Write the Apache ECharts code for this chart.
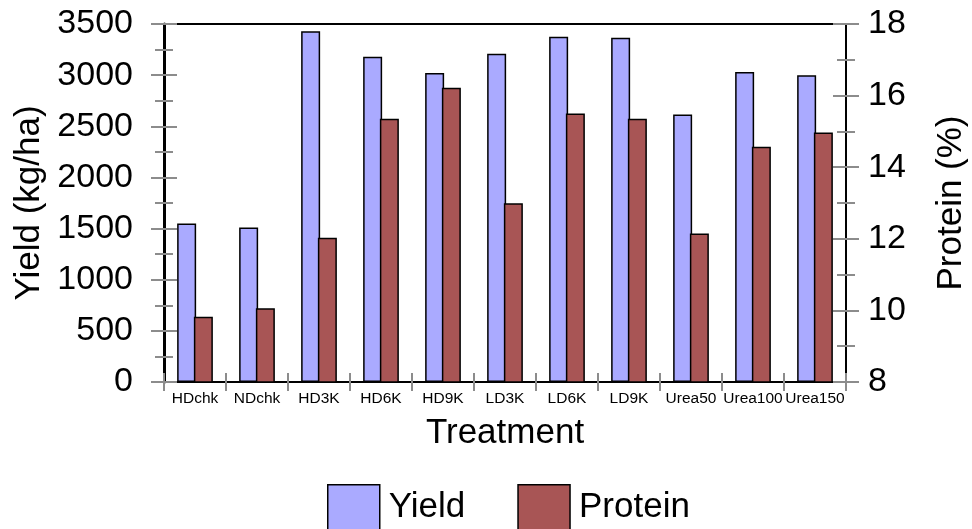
<!DOCTYPE html>
<html>
<head>
<meta charset="utf-8">
<script src="https://cdn.jsdelivr.net/npm/echarts@6/dist/echarts.min.js"></script>
<style>
  html, body { margin: 0; padding: 0; background: #fff; }
  #chart { width: 972px; height: 529px; }
</style>
</head>
<body>
<div id="chart"></div>
<script>
var treatments = ['HDchk', 'NDchk', 'HD3K', 'HD6K', 'HD9K', 'LD3K', 'LD6K', 'LD9K', 'Urea50', 'Urea100', 'Urea150'];
var yieldValues = [1550, 1510, 3430, 3180, 3020, 3210, 3375, 3365, 2615, 3030, 3000];
var proteinValues = [9.82, 10.06, 12.03, 15.35, 16.22, 12.99, 15.5, 15.35, 12.15, 14.57, 14.97];

var font = '"Liberation Sans", Arial, sans-serif';
var tickGray = '#8c8c8c';

var chart = echarts.init(document.getElementById('chart'));

// two copies of each axis: one with ticks outside, one inside, so ticks cross the line
function yAxisPair(pos, min, max, interval, name, nameGap, labelMargin) {
  return [
    {
      type: 'value', position: pos, min: min, max: max, interval: interval,
      name: name, nameLocation: 'middle', nameGap: nameGap, nameRotate: 90,
      nameTextStyle: { fontFamily: font, fontSize: 35, color: '#000' },
      axisLine: { show: true, lineStyle: { color: '#000', width: pos == 'left' ? 3 : 2 } },
      axisTick: { show: true, length: 13, lineStyle: { color: tickGray, width: 2 } },
      minorTick: { show: true, splitNumber: 2, length: 9, lineStyle: { color: tickGray, width: 2 } },
      axisLabel: {
        fontFamily: font, fontSize: 34, color: '#000', margin: labelMargin,
        formatter: function (v) { return String(v); }
      },
      splitLine: { show: false }
    },
    {
      type: 'value', position: pos, min: min, max: max, interval: interval,
      axisLine: { show: false },
      axisTick: { show: true, inside: true, length: 13, lineStyle: { color: tickGray, width: 2 } },
      minorTick: { show: true, splitNumber: 2, length: 9, lineStyle: { color: tickGray, width: 2 } },
      axisLabel: { show: false },
      splitLine: { show: false }
    }
  ];
}

var leftAxes = yAxisPair('left', 0, 3500, 500, 'Yield (kg/ha)', 115, 31);
var rightAxes = yAxisPair('right', 8, 18, 2, 'Protein (%)', 88, 22);

var option = {
  animation: false,
  backgroundColor: '#fff',
  grid: {
    left: 164, right: 126, top: 24, bottom: 147,
    outerBoundsMode: 'none', containLabel: false,
    show: true, borderColor: '#000', borderWidth: 2
  },
  legend: {
    data: ['Yield', 'Protein'],
    left: 327, top: 484, padding: 0,
    itemWidth: 52, itemHeight: 46, itemGap: 52,
    icon: 'rect',
    itemStyle: { borderColor: '#000', borderWidth: 1.5 },
    textStyle: { fontFamily: font, fontSize: 35, color: '#000', padding: [0, 0, 0, 4] }
  },
  xAxis: [
    {
      type: 'category', data: treatments,
      name: 'Treatment', nameLocation: 'middle', nameGap: 34,
      nameTextStyle: { fontFamily: font, fontSize: 35, color: '#000' },
      axisLine: { lineStyle: { color: '#000', width: 2 } },
      axisTick: { show: true, length: 9, lineStyle: { color: tickGray, width: 2 } },
      axisLabel: { fontFamily: font, fontSize: 15.5, color: '#000', margin: 9, interval: 0 }
    },
    {
      type: 'category', data: treatments, position: 'bottom',
      axisLine: { show: false },
      axisTick: { show: true, inside: true, length: 9, lineStyle: { color: tickGray, width: 2 } },
      axisLabel: { show: false }
    }
  ],
  yAxis: [leftAxes[0], rightAxes[0], leftAxes[1], rightAxes[1]],
  series: [
    {
      name: 'Yield', type: 'bar', xAxisIndex: 0, yAxisIndex: 0,
      data: yieldValues, barWidth: 19, barGap: '-12%',
      itemStyle: { color: '#aaaaff', borderColor: '#000', borderWidth: 1.5 }
    },
    {
      name: 'Protein', type: 'bar', xAxisIndex: 0, yAxisIndex: 1,
      data: proteinValues, barWidth: 19, barGap: '-12%',
      itemStyle: { color: '#a85555', borderColor: '#000', borderWidth: 1.5 }
    }
  ]
};

chart.setOption(option);
</script>
</body>
</html>
